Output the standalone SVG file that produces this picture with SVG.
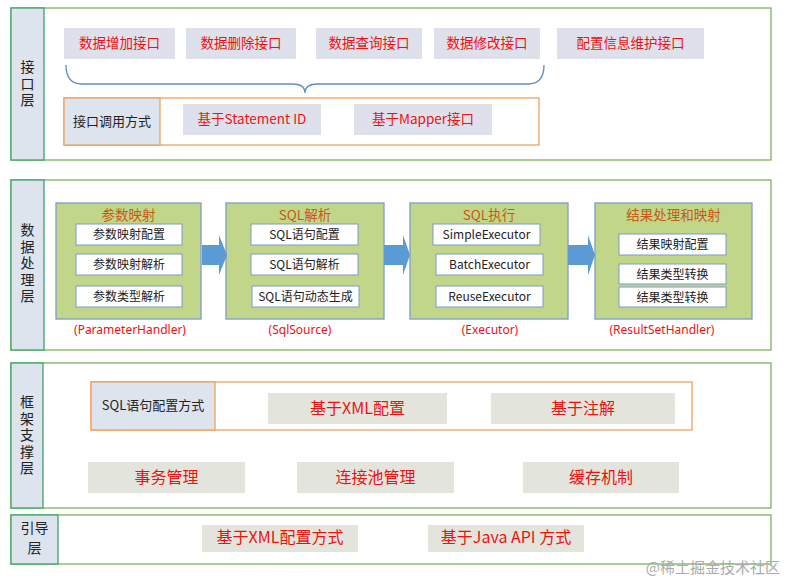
<svg xmlns="http://www.w3.org/2000/svg" width="788" height="584" viewBox="0 0 788 584">
<style>
text{font-family:"Noto Sans CJK SC","Noto Sans",sans-serif;}
.layer{fill:#fff;stroke:#7ab45a;stroke-width:1.3;}
.lab{fill:#dde4ee;stroke:#3ca46c;stroke-width:1.3;}
.labt{font-size:14px;fill:#222;text-anchor:middle;}
.vt{font-size:14px;fill:#222;writing-mode:vertical-rl;letter-spacing:2.5px;}
.btn{fill:#dee0ec;}
.gbtn{fill:#e3e5dc;}
.red{fill:#ee1111;text-anchor:middle;font-size:13.5px;}
.red16{fill:#ee1111;text-anchor:middle;font-size:16px;}
.obox{fill:#fff;stroke:#f0a060;stroke-width:1.3;}
.cell{fill:#dde4ee;stroke:#f0a060;stroke-width:1.3;}
.blk{fill:#222;text-anchor:middle;font-size:13px;}
.gbox{fill:#c2d68a;stroke:#7a9cc8;stroke-width:1.3;}
.gt{fill:#c55a11;text-anchor:middle;font-size:13.5px;}
.wb{fill:#fff;stroke:#7a9cc8;stroke-width:1;}
.wt{fill:#222;text-anchor:middle;font-size:12px;}
.sub{fill:#ee1111;text-anchor:middle;font-size:12px;font-family:"Noto Sans",sans-serif;}
.arr{fill:#5b9bd5;}
</style>

<!-- Layer 1 -->
<g id="layer-interface">
<rect class="layer" x="11" y="8" width="760" height="152"/>
<rect class="lab" x="11" y="8" width="33" height="152"/>
<text class="vt" x="27.5" y="60">接口层</text>
</g>
<g id="btn-add"><rect class="btn" x="64" y="28" width="111" height="31"/><text class="red" x="119.5" y="48">数据增加接口</text></g>
<g id="btn-del"><rect class="btn" x="186" y="28" width="110" height="31"/><text class="red" x="241" y="48">数据删除接口</text></g>
<g id="btn-query"><rect class="btn" x="316" y="28" width="106" height="31"/><text class="red" x="369" y="48">数据查询接口</text></g>
<g id="btn-mod"><rect class="btn" x="434" y="28" width="106" height="31"/><text class="red" x="487" y="48">数据修改接口</text></g>
<g id="btn-conf"><rect class="btn" x="557" y="28" width="147" height="31"/><text class="red" x="630.5" y="48">配置信息维护接口</text></g>
<g id="call-mode">
<rect class="obox" x="64" y="98" width="475" height="47"/>
<rect class="cell" x="64" y="98" width="96" height="47"/>
<text class="blk" x="112" y="126">接口调用方式</text>
</g>
<g id="btn-stmt"><rect class="btn" x="183" y="104" width="138" height="31"/><text class="red" x="252" y="124">基于Statement ID</text></g>
<g id="btn-mapper"><rect class="btn" x="354" y="104" width="138" height="31"/><text class="red" x="423" y="124">基于Mapper接口</text></g>

<!-- Layer 2 -->
<g id="layer-data">
<rect class="layer" x="11" y="180" width="760" height="170"/>
<rect class="lab" x="11" y="180" width="33" height="170"/>
<text class="vt" x="27.5" y="223">数据处理层</text>
</g>
<g id="param-map">
<rect class="gbox" x="56" y="203" width="145" height="116"/>
<text class="gt" x="128.5" y="219.5">参数映射</text>
<rect class="wb" x="76" y="224" width="106" height="21"/><text class="wt" x="129" y="239">参数映射配置</text>
<rect class="wb" x="76" y="254" width="106" height="21"/><text class="wt" x="129" y="269">参数映射解析</text>
<rect class="wb" x="76" y="286" width="106" height="21"/><text class="wt" x="129" y="301">参数类型解析</text>
<text class="sub" x="130" y="334">(ParameterHandler)</text>
</g>
<g id="sql-parse">
<rect class="gbox" x="226" y="203" width="158" height="116"/>
<text class="gt" x="305" y="219.5">SQL解析</text>
<rect class="wb" x="251" y="224" width="107" height="21"/><text class="wt" x="304.5" y="239">SQL语句配置</text>
<rect class="wb" x="251" y="254" width="107" height="21"/><text class="wt" x="304.5" y="269">SQL语句解析</text>
<rect class="wb" x="252" y="286" width="107" height="21"/><text class="wt" x="305.5" y="301">SQL语句动态生成</text>
<text class="sub" x="300" y="334">(SqlSource)</text>
</g>
<g id="sql-exec">
<rect class="gbox" x="410" y="203" width="158" height="116"/>
<text class="gt" x="489" y="219.5">SQL执行</text>
<rect class="wb" x="433" y="224" width="107" height="21"/><text class="wt" x="486.5" y="239">SimpleExecutor</text>
<rect class="wb" x="436" y="254" width="107" height="21"/><text class="wt" x="489.5" y="269">BatchExecutor</text>
<rect class="wb" x="436" y="286" width="107" height="21"/><text class="wt" x="489.5" y="301">ReuseExecutor</text>
<text class="sub" x="490" y="334">(Executor)</text>
</g>
<g id="result-map">
<rect class="gbox" x="595" y="203" width="157" height="116"/>
<text class="gt" x="673.5" y="219.5">结果处理和映射</text>
<rect class="wb" x="619" y="234" width="107" height="21"/><text class="wt" x="672.5" y="249">结果映射配置</text>
<rect class="wb" x="619" y="264" width="107" height="20"/><text class="wt" x="672.5" y="279">结果类型转换</text>
<rect class="wb" x="619" y="287" width="107" height="20"/><text class="wt" x="672.5" y="302">结果类型转换</text>
<text class="sub" x="662" y="334">(ResultSetHandler)</text>
</g>

<!-- Layer 3 -->
<g id="layer-frame">
<rect class="layer" x="11" y="363" width="760" height="145"/>
<rect class="lab" x="11" y="363" width="32" height="145"/>
<text class="vt" x="27" y="395">框架支撑层</text>
</g>
<g id="sql-config-mode">
<rect class="obox" x="91" y="382" width="601" height="48"/>
<rect class="cell" x="91" y="382" width="124" height="48"/>
<text class="blk" x="153" y="410">SQL语句配置方式</text>
</g>
<g id="btn-xml"><rect class="gbtn" x="268" y="393" width="179" height="31"/><text class="red16" x="357.5" y="414">基于XML配置</text></g>
<g id="btn-anno"><rect class="gbtn" x="491" y="393" width="184" height="31"/><text class="red16" x="583" y="414">基于注解</text></g>
<g id="btn-tx"><rect class="gbtn" x="88" y="462" width="157" height="31"/><text class="red16" x="166.5" y="483">事务管理</text></g>
<g id="btn-pool"><rect class="gbtn" x="297" y="462" width="157" height="31"/><text class="red16" x="375.5" y="483">连接池管理</text></g>
<g id="btn-cache"><rect class="gbtn" x="523" y="462" width="156" height="31"/><text class="red16" x="601" y="483">缓存机制</text></g>

<!-- Layer 4 -->
<g id="layer-boot">
<rect class="layer" x="11" y="515" width="760" height="49"/>
<rect class="lab" x="11" y="515" width="47" height="49"/>
<text class="labt" x="34.5" y="533">引导</text>
<text class="labt" x="34.5" y="553">层</text>
</g>
<g id="btn-xml-boot"><rect class="gbtn" x="202" y="525" width="156" height="27"/><text class="red16" x="280" y="543">基于XML配置方式</text></g>
<g id="btn-java-api"><rect class="gbtn" x="428" y="525" width="156" height="27"/><text class="red16" x="506" y="543">基于Java API 方式</text></g>

<!-- connectors -->
<g id="connectors">
<path d="M66,65 Q66,84 82,84 L292,84 Q305,84 305,93 Q305,84 318,84 L528,84 Q544,84 544,65" fill="none" stroke="#5b8fc7" stroke-width="1.3"/>
<path class="arr" d="M202,245 L219,245 L219,235 L227,255 L219,275 L219,265 L202,265 Z"/>
<path class="arr" d="M384,245 L403,245 L403,235 L410,255 L403,275 L403,265 L384,265 Z"/>
<path class="arr" d="M568,245 L588,245 L588,235 L595,255 L588,275 L588,265 L568,265 Z"/>
</g>

<text x="780" y="573" style="font-size:15px;fill:#aaa;text-anchor:end;">@稀土掘金技术社区</text>
</svg>
